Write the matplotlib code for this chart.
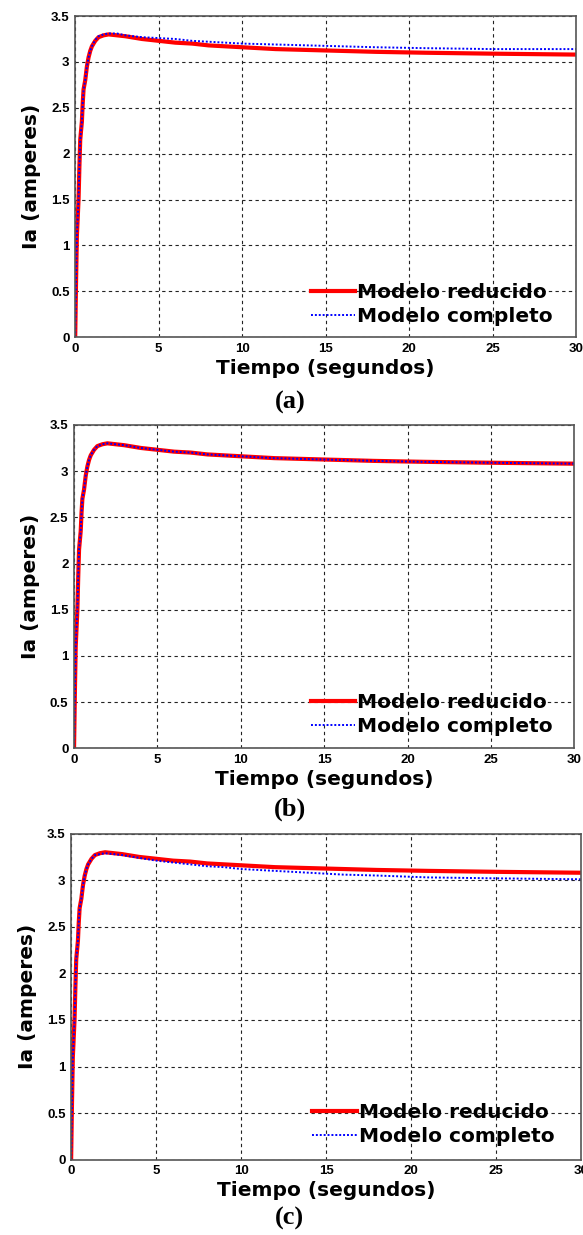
import matplotlib
matplotlib.use("Agg")
import matplotlib.pyplot as plt
import numpy as np

# tiempo (s) y corriente de armadura
t = [0, 0.05, 0.1, 0.2, 0.25, 0.3, 0.4, 0.45, 0.5, 0.6, 0.7, 0.8, 0.9, 1.0,
     1.2, 1.4, 1.7, 2.0, 2.5, 3.0, 4.0, 5.0, 6.0, 7.0, 8.0, 9.0, 10.0,
     12.0, 14.0, 16.0, 18.0, 21.0, 25.0, 30.0]

ia_reducido = [0, 0.6, 1.1, 1.5, 1.85, 2.15, 2.35, 2.55, 2.7, 2.8, 2.95, 3.05, 3.12, 3.17,
               3.23, 3.27, 3.29, 3.30, 3.29, 3.28, 3.25, 3.23, 3.21, 3.20, 3.18, 3.17, 3.16,
               3.14, 3.13, 3.12, 3.11, 3.10, 3.09, 3.08]

ia_completo_a = [0, 0.6, 1.1, 1.5, 1.85, 2.15, 2.35, 2.55, 2.7, 2.8, 2.95, 3.05, 3.12, 3.17,
                 3.24, 3.28, 3.30, 3.31, 3.31, 3.29, 3.27, 3.26, 3.25, 3.23, 3.22, 3.21, 3.20,
                 3.19, 3.18, 3.17, 3.16, 3.15, 3.14, 3.14]

ia_completo_b = [0, 0.6, 1.1, 1.5, 1.85, 2.15, 2.35, 2.55, 2.7, 2.8, 2.95, 3.05, 3.12, 3.17,
                 3.23, 3.27, 3.29, 3.30, 3.29, 3.28, 3.25, 3.23, 3.21, 3.20, 3.18, 3.17, 3.16,
                 3.14, 3.13, 3.12, 3.11, 3.10, 3.09, 3.08]

ia_completo_c = [0, 0.6, 1.1, 1.5, 1.85, 2.15, 2.35, 2.55, 2.7, 2.8, 2.95, 3.05, 3.12, 3.17,
                 3.23, 3.27, 3.28, 3.29, 3.28, 3.27, 3.24, 3.21, 3.19, 3.17, 3.15, 3.14, 3.12,
                 3.10, 3.08, 3.06, 3.05, 3.03, 3.02, 3.01]

xticks = [0, 5, 10, 15, 20, 25, 30]
yticks = [0, 0.5, 1, 1.5, 2, 2.5, 3, 3.5]
ytick_labels = ["0", "0.5", "1", "1.5", "2", "2.5", "3", "3.5"]
paneles = ["(a)", "(b)", "(c)"]

plt.rcParams['font.family'] = ['Liberation Sans', 'DejaVu Sans']

fig = plt.figure(figsize=(5.83, 12.35), dpi=100)

# posiciones de cada panel [left, bottom, width, height], leyenda y titulo
axes_pos = [[0.129, 0.727, 0.859, 0.260],
            [0.127, 0.394, 0.858, 0.262],
            [0.122, 0.061, 0.875, 0.264]]
leg_pos = [(0.470, 0.101), (0.474, 0.105), (0.473, 0.109)]
cap_y = [0.674, 0.345, 0.013]
completos = [ia_completo_a, ia_completo_b, ia_completo_c]

for i in range(3):
    ax = fig.add_axes(axes_pos[i])
    ax.plot(t, ia_reducido, color="red", linewidth=3, label="Modelo reducido")
    ax.plot(t, completos[i], color="blue", linewidth=1.4, linestyle=(0, (1, 1)),
            label="Modelo completo")
    ax.set_xlim(0, 30)
    ax.set_ylim(0, 3.5)
    ax.set_xticks(xticks)
    ax.set_yticks(yticks)
    ax.set_yticklabels(ytick_labels)
    ax.tick_params(length=0, labelsize=9.5, pad=4)
    for lab in ax.get_xticklabels() + ax.get_yticklabels():
        lab.set_fontweight("bold")
    for sp in ax.spines.values():
        sp.set_color("#555555")
        sp.set_linewidth(1.2)
    ax.grid(True, color="#222222", linestyle=(0, (3, 3)), linewidth=0.8)
    ax.set_xlabel("Tiempo (segundos)", fontsize=14.5, fontweight="bold",
                  family="DejaVu Sans", labelpad=3)
    ax.set_ylabel("Ia (amperes)", fontsize=14.5, fontweight="bold",
                  family="DejaVu Sans", labelpad=7)
    ax.legend(loc="center left", bbox_to_anchor=leg_pos[i], frameon=False,
              prop={"weight": "bold", "size": 14.5, "family": "DejaVu Sans"},
              handlelength=2.2, handletextpad=0.1, borderpad=0,
              borderaxespad=0, labelspacing=0.25)
    fig.text(0.497, cap_y[i], paneles[i], fontsize=19, fontweight="bold",
             family="Liberation Serif", ha="center", va="center")

fig.savefig("out.png", dpi=100)
